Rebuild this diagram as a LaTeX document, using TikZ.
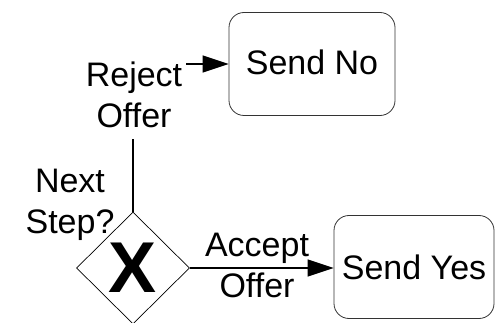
\documentclass[tikz,border=0pt]{standalone}
\usepackage{fontspec}
\setmainfont{Liberation Sans}
\usetikzlibrary{shapes.geometric,arrows.meta}
\begin{document}
\begin{tikzpicture}[x=1pt,y=-1pt,
  every node/.style={font=\fontsize{34}{41}\selectfont},
  taskbox/.style={draw=black!80,line width=0.8pt,rounded corners=15pt,minimum width=#1,minimum height=103pt,inner sep=0pt},
  gateway/.style={draw,shape=diamond,line width=0.7pt,minimum width=113pt,minimum height=112pt,inner sep=0pt,font=\fontsize{72}{80}\selectfont\bfseries},
  lbl/.style={align=center,inner sep=0pt},
  flow/.style={line width=1.3pt},
  arrowflow/.style={line width=1.3pt,-{Triangle[length=26pt,width=17pt]}}]
\useasboundingbox (0,0) rectangle (495,323);
\node[taskbox=166pt] (sendno) at (312,64) {\raisebox{4pt}{Send No}};
\node[taskbox=160pt] (sendyes) at (414,267) {Send Yes};
\node[gateway] (d) at (133,268) {X};
\node[lbl,inner xsep=4pt,inner ysep=11pt] (rej) at (134,95) {Reject\\Offer};
\node[lbl] (next) at (70,205) {Next\\Step?};
\node[lbl] (acc) at (257,265) {Accept\\Offer};
\draw[flow] (d.north) -- (d.north |- rej.south);
\draw[arrowflow] (rej.east |- sendno.west) -- (sendno.west);
\draw[arrowflow] (d.east) -- (d.east -| sendyes.west);
\end{tikzpicture}
\end{document}
